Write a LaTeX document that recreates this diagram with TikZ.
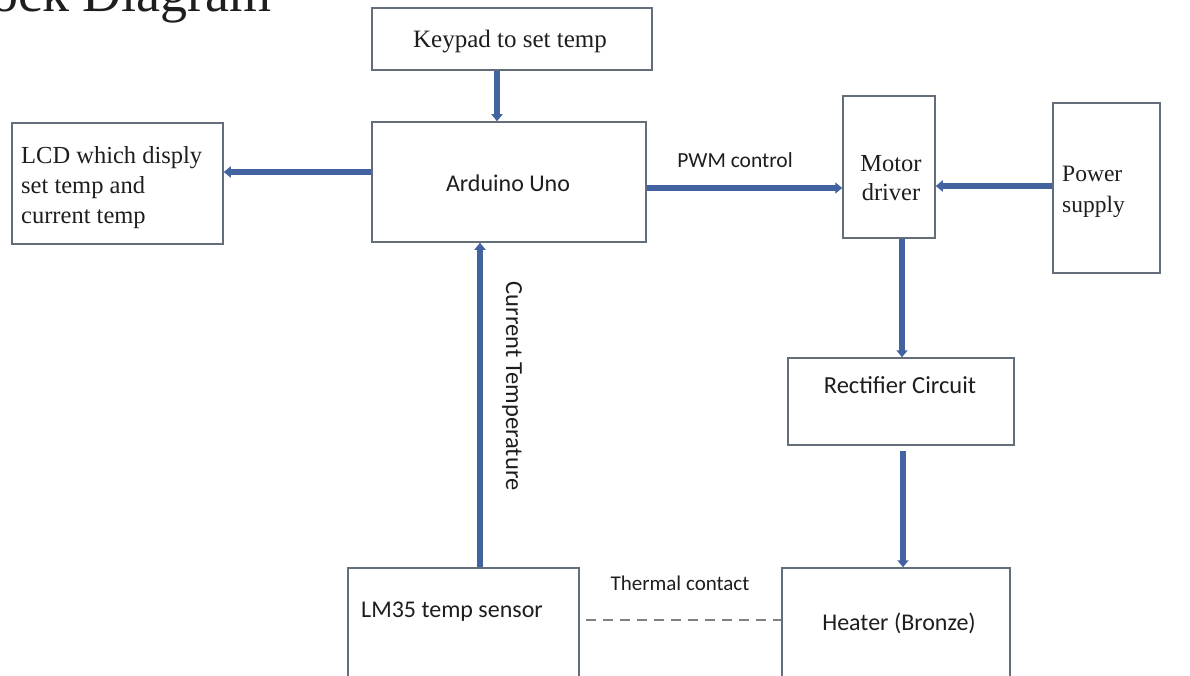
\documentclass[tikz,border=0pt]{standalone}
\usepackage{fontspec}
\setmainfont{Liberation Serif}
\newfontfamily\calfont{Carlito}
\usetikzlibrary{arrows.meta}
\definecolor{arrblue}{RGB}{66,98,160}
\definecolor{boxgray}{RGB}{100,110,122}
\definecolor{txt}{RGB}{30,30,30}
\tikzset{
  box/.style={draw=boxgray, line width=1.5pt, inner sep=0pt, fill=white},
  arr/.style={draw=arrblue, line width=6pt, -{Triangle[width=11pt,length=7pt]}},
  sertxt/.style={text=txt, font=\fontsize{23}{30}\selectfont, inner sep=0pt, align=left},
  caltxt/.style={text=txt, font=\calfont\fontsize{24}{28}\selectfont, inner sep=0pt},
  dashline/.style={draw=gray, line width=2pt, dash pattern=on 10pt off 7pt}
}
\begin{document}
\begin{tikzpicture}[x=1pt,y=-1pt]
\useasboundingbox (0,0) rectangle (1190,676);
\fill[white] (0,0) rectangle (1190,676);
% title (cut off by the page edge, as in the reference)
\node[anchor=base east, inner sep=0pt, text=txt, font=\fontsize{54}{60}\selectfont] (title) at (272,12) {Block Diagram};
% boxes
\node[box, minimum width=280pt, minimum height=62pt] (kp) at (512,39) {};
\node[box, minimum width=274pt, minimum height=120pt] (ard) at (509,182) {};
\node[box, minimum width=211pt, minimum height=121pt] (lcd) at (117.5,183.5) {};
\node[box, minimum width=92pt, minimum height=142pt] (md) at (889,167) {};
\node[box, minimum width=107pt, minimum height=170pt] (ps) at (1106.5,188) {};
\node[box, minimum width=226pt, minimum height=87pt] (rc) at (901,401.5) {};
\node[box, minimum width=228pt, minimum height=122pt] (ht) at (896,629) {};
\node[box, minimum width=231pt, minimum height=122pt] (lm) at (463.5,629) {};
% texts
\node[sertxt, font=\fontsize{25}{30}\selectfont] (kpt) at (510,42) {Keypad to set temp};
\node[caltxt] (ardt) at (508,183) {Arduino Uno};
\node[sertxt, anchor=west, font=\fontsize{24.5}{30}\selectfont] (lcdt) at (21,188) {LCD which disply\\set temp and\\current temp};
\node[sertxt, align=center, font=\fontsize{24.5}{29}\selectfont] (mdt) at (891,178) {Motor\\driver};
\node[sertxt, anchor=west, font=\fontsize{23.5}{31}\selectfont] (pst) at (1062,192) {Power\\supply};
\node[caltxt, font=\calfont\fontsize{24.5}{28}\selectfont] (rct) at (900,385) {Rectifier Circuit};
\node[caltxt] (htt) at (899,623) {Heater (Bronze)};
\node[caltxt, anchor=west] (lmt) at (361,612) {LM35 temp sensor};
\node[caltxt, font=\calfont\fontsize{21.5}{24}\selectfont] (pwm) at (735,160) {PWM control};
\node[caltxt, font=\calfont\fontsize{21}{24}\selectfont] (thc) at (680,583) {Thermal contact};
\node[caltxt, font=\calfont\fontsize{24.5}{28}\selectfont, rotate=-90] (cur) at (512,386) {Current Temperature};
% connectors
\draw[arr] ([xshift=-15pt]kp.south) -- ([xshift=-12pt]ard.north);
\draw[arr] ([yshift=10pt]ard.west) -- ([yshift=10pt]ard.west -| lcd.east);
\draw[arr] ([yshift=-6pt]ard.east) -- ([yshift=-6pt]ard.east -| md.west);
\draw[arr] ([yshift=2pt]ps.west) -- ([yshift=2pt]ps.west -| md.east);
\draw[arr] ([xshift=13pt]md.south) -- ([xshift=1pt]rc.north);
\draw[arr] ([xshift=2pt,yshift=-5pt]rc.south) -- ([xshift=7pt]ht.north);
\draw[arr] ([xshift=16.5pt]lm.north) -- ([xshift=-29pt]ard.south);
\draw[dashline] ([xshift=6pt,yshift=9pt]lm.east) -- ([yshift=9pt]ht.west);
\end{tikzpicture}
\end{document}
